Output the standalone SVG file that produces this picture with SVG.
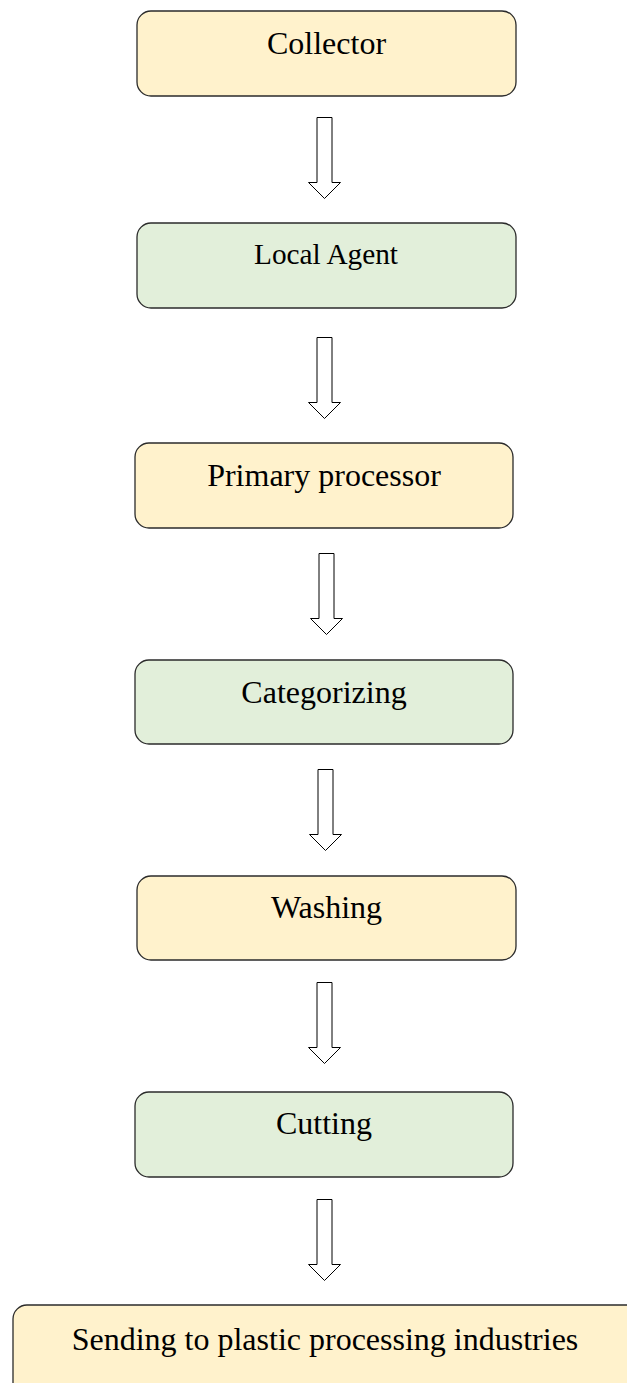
<svg xmlns="http://www.w3.org/2000/svg" width="627" height="1383" viewBox="0 0 627 1383">
  <style>
    .box { stroke: #2b2b2b; stroke-width: 1.3; }
    .yellow { fill: #FFF2CC; }
    .green { fill: #E2EFDA; }
    .label { font-family: "Liberation Serif", "Times New Roman", serif; font-size: 32px; fill: #000; text-anchor: middle; }
    .arrow { fill: #fff; stroke: #000; stroke-width: 1; stroke-linejoin: miter; }
  </style>
  <defs>
    <!-- hollow block arrow pointing down; origin at shaft top centre -->
    <path id="down" d="M -7.5 0 H 7.5 V 65 H 16 L 0 81 L -16 65 H -7.5 Z"/>
  </defs>
  <rect width="627" height="1383" fill="#fff"/>

  <g id="connectors">
    <use href="#down" class="arrow" x="324.5" y="117.5"/>
    <use href="#down" class="arrow" x="324.5" y="337.5"/>
    <use href="#down" class="arrow" x="326.5" y="553.5"/>
    <use href="#down" class="arrow" x="325.5" y="769.5"/>
    <use href="#down" class="arrow" x="324.5" y="982.5"/>
    <use href="#down" class="arrow" x="324.5" y="1199.5"/>
  </g>

  <g id="collector">
    <rect class="box yellow" x="137" y="11" width="379" height="85" rx="14"/>
    <text class="label" x="326.5" y="54">Collector</text>
  </g>

  <g id="local-agent">
    <rect class="box green" x="137" y="223" width="379" height="85" rx="14"/>
    <text class="label" x="326" y="264" style="font-size:29.3px">Local Agent</text>
  </g>

  <g id="primary-processor">
    <rect class="box yellow" x="135" y="443" width="378" height="85" rx="14"/>
    <text class="label" x="324" y="486">Primary processor</text>
  </g>

  <g id="categorizing">
    <rect class="box green" x="135" y="660" width="378" height="84" rx="14"/>
    <text class="label" x="324" y="703">Categorizing</text>
  </g>

  <g id="washing">
    <rect class="box yellow" x="137" y="876" width="379" height="84" rx="14"/>
    <text class="label" x="326.5" y="918">Washing</text>
  </g>

  <g id="cutting">
    <rect class="box green" x="135" y="1092" width="378" height="85" rx="14"/>
    <text class="label" x="324" y="1134">Cutting</text>
  </g>

  <g id="sending">
    <rect class="box yellow" x="13" y="1305" width="640" height="100" rx="14"/>
    <text class="label" x="325" y="1350">Sending to plastic processing industries</text>
  </g>
</svg>
